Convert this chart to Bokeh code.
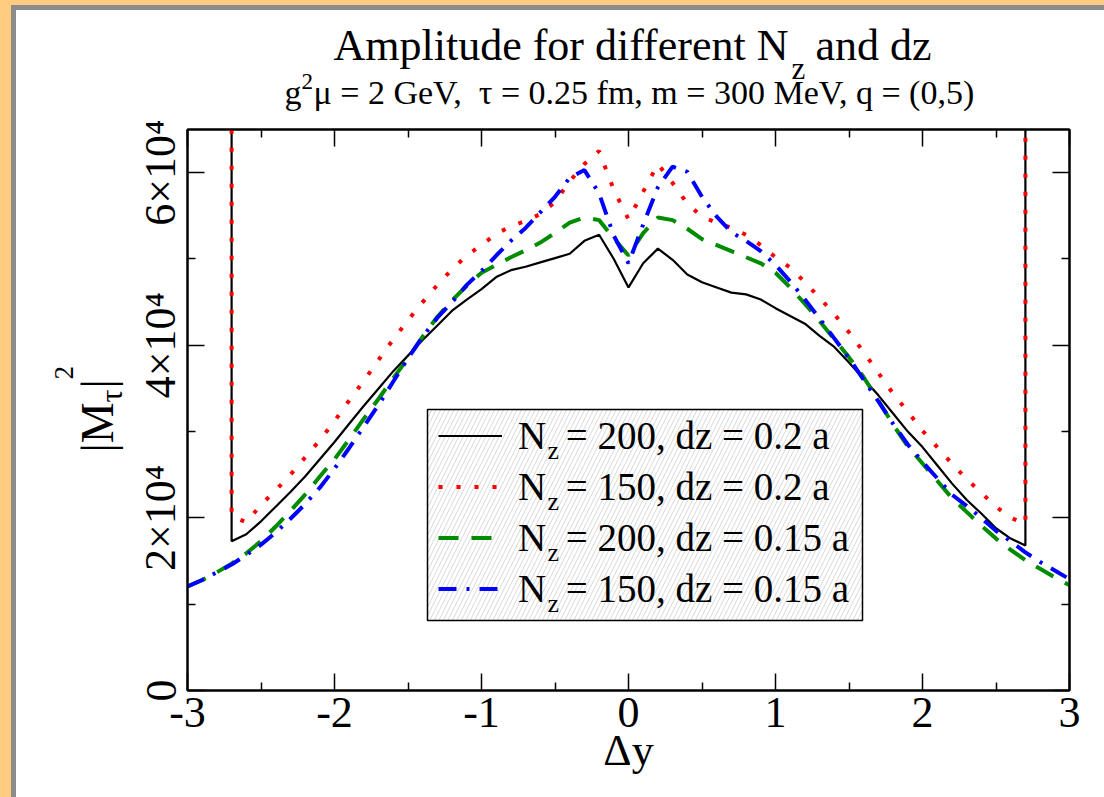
from bokeh.plotting import figure
from bokeh.models import Range1d, LinearAxis, FixedTicker, Legend, LegendItem, Column, Row
from bokeh.core.properties import value
from bokeh.embed import file_html
from bokeh.resources import INLINE

# ---------------- data (|M_tau|^2 in units of 10^4) ----------------
dy_full = [-3.0, -2.9, -2.8, -2.7, -2.6, -2.5, -2.4, -2.3, -2.2, -2.1, -2.0,
           -1.9, -1.8, -1.7, -1.6, -1.5, -1.4, -1.3, -1.2, -1.1, -1.0,
           -0.9, -0.8, -0.7, -0.6, -0.5, -0.4, -0.3, -0.2, -0.1, 0.0,
           0.1, 0.2, 0.3, 0.4, 0.5, 0.6, 0.7, 0.8, 0.9, 1.0,
           1.1, 1.2, 1.3, 1.4, 1.5, 1.6, 1.7, 1.8, 1.9, 2.0,
           2.1, 2.2, 2.3, 2.4, 2.5, 2.6, 2.7, 2.8, 2.9, 3.0]
dy_inner = [-2.7, -2.6, -2.5, -2.4, -2.3, -2.2, -2.1, -2.0,
            -1.9, -1.8, -1.7, -1.6, -1.5, -1.4, -1.3, -1.2, -1.1, -1.0,
            -0.9, -0.8, -0.7, -0.6, -0.5, -0.4, -0.3, -0.2, -0.1, 0.0,
            0.1, 0.2, 0.3, 0.4, 0.5, 0.6, 0.7, 0.8, 0.9, 1.0,
            1.1, 1.2, 1.3, 1.4, 1.5, 1.6, 1.7, 1.8, 1.9, 2.0,
            2.1, 2.2, 2.3, 2.4, 2.5, 2.6, 2.7]

# N_z = 200, dz = 0.2 a (black, solid)
nz200_dz02 = [1.73, 1.81, 1.96, 2.13, 2.30, 2.48, 2.68, 2.88,
              3.09, 3.30, 3.50, 3.70, 3.88, 4.06, 4.23, 4.40, 4.53, 4.65,
              4.79, 4.87, 4.91, 4.96, 5.01, 5.06, 5.21, 5.28, 5.00, 4.67,
              4.95, 5.12, 4.99, 4.82, 4.73, 4.67, 4.61, 4.59, 4.53, 4.43,
              4.34, 4.25, 4.11, 3.98, 3.80, 3.61, 3.42, 3.21, 3.00, 2.82,
              2.61, 2.40, 2.21, 2.05, 1.88, 1.76, 1.68]
# N_z = 150, dz = 0.2 a (red, dotted)
nz150_dz02 = [2.02, 1.95, 2.15, 2.32, 2.50, 2.70, 2.90, 3.12,
              3.36, 3.59, 3.83, 4.07, 4.29, 4.50, 4.70, 4.88, 5.04, 5.16,
              5.29, 5.38, 5.44, 5.52, 5.66, 5.90, 6.10, 6.25, 5.80, 5.46,
              5.78, 6.10, 5.88, 5.64, 5.49, 5.42, 5.36, 5.28, 5.16, 5.02,
              4.90, 4.73, 4.55, 4.36, 4.15, 3.92, 3.68, 3.44, 3.23, 3.01,
              2.82, 2.63, 2.45, 2.29, 2.13, 2.00, 1.93]
# off-scale values at the edge points |dy| = 2.7
edge_value = 9.0

# N_z = 200, dz = 0.15 a (green, dashed)
nz200_dz015 = [1.205, 1.28, 1.37, 1.47, 1.59, 1.73, 1.90, 2.08, 2.27, 2.48, 2.68,
               2.91, 3.15, 3.38, 3.62, 3.85, 4.10, 4.33, 4.52, 4.69, 4.84,
               4.93, 5.02, 5.10, 5.19, 5.30, 5.42, 5.48, 5.45, 5.24, 5.04,
               5.30, 5.48, 5.45, 5.35, 5.23, 5.16, 5.09, 5.02, 4.95, 4.84,
               4.67, 4.48, 4.28, 4.07, 3.86, 3.63, 3.36, 3.08, 2.83, 2.63,
               2.43, 2.23, 2.07, 1.91, 1.76, 1.63, 1.51, 1.41, 1.31, 1.22]
# N_z = 150, dz = 0.15 a (blue, dash-dot)
nz150_dz015 = [1.205, 1.28, 1.37, 1.46, 1.57, 1.69, 1.83, 1.99, 2.16, 2.35, 2.57,
               2.81, 3.06, 3.31, 3.58, 3.85, 4.10, 4.32, 4.50, 4.70, 4.86,
               5.04, 5.21, 5.36, 5.54, 5.72, 5.94, 6.03, 5.76, 5.27, 4.95,
               5.40, 5.83, 6.07, 6.01, 5.72, 5.49, 5.31, 5.21, 5.09, 4.93,
               4.74, 4.53, 4.31, 4.08, 3.85, 3.60, 3.35, 3.09, 2.85, 2.65,
               2.46, 2.27, 2.14, 2.00, 1.85, 1.73, 1.60, 1.49, 1.39, 1.29]

series_labels = ["N\u2002= 200, dz = 0.2 a", "N\u2002= 150, dz = 0.2 a",
                 "N\u2002= 200, dz = 0.15 a", "N\u2002= 150, dz = 0.15 a"]
x_ticks = [-3, -2, -1, 0, 1, 2, 3]
x_tick_labels = ["-3", "-2", "-1", "0", "1", "2", "3"]
y_ticks = [0, 20000, 40000, 60000]
y_tick_labels = ["0", "2\u00d710\u2074", "4\u00d710\u2074", "6\u00d710\u2074"]

SCALE = 1.0e4
FONT = "Liberation Serif"
TICK_FONT = "44px"
MID = 0.38   # baseline lies this many em below a "middle" anchor

# ---------------- page geometry (page pixels) ----------------
PW, PH = 1104, 797
TITLE_B = 119      # bottom of the title band
LEFT_R = 128       # right edge of the y-title band
FL, FR, FT, FB = 187, 1069, 129, 690   # plot frame
XR = (-3.0, 3.0)
YR = (0.0, 65000.0)


def band(x0, x1, y0, y1, fy0, fy1):
    f = figure(width=x1 - x0, height=y1 - y0, output_backend="svg",
               toolbar_location=None, title=None,
               min_border_left=0, min_border_right=0,
               min_border_top=fy0 - y0, min_border_bottom=y1 - fy1,
               x_range=Range1d(x0, x1), y_range=Range1d(-fy1, -fy0),
               x_axis_type=None, y_axis_type=None)
    f.outline_line_color = None
    f.border_fill_alpha = 0.0
    f.background_fill_alpha = 0.0
    return f


def txt(f, s, px, py, size, angle=0.0):
    """place text so that its baseline starts at page point (px, py)"""
    if angle:
        ax, ay = px - MID * size, py
    else:
        ax, ay = px, py - MID * size
    f.text(x=[ax], y=[-ay], text=[s], text_font=value(FONT),
           text_font_size=value(f"{size}px"), text_align=value("left"),
           text_baseline=value("middle"), angle=angle, text_color="black")


# ---------------- title band ----------------
tf = band(0, PW, 0, TITLE_B, 0, TITLE_B)
txt(tf, "Amplitude for different N", 333, 62, 44)
txt(tf, "z", 791, 80, 31)
txt(tf, "and dz", 815, 62, 44)
txt(tf, "g", 284, 105, 34)
txt(tf, "2", 301, 90, 23)
txt(tf, "\u03bc = 2 GeV,\u00a0 \u03c4 = 0.25 fm, m = 300 MeV, q = (0,5)", 313, 105, 34)

# ---------------- y-title band |M_tau|^2 ----------------
lf = band(0, LEFT_R, TITLE_B, PH, FT, FB)
ANG = 1.5707963267948966
txt(lf, "|M", 114, 452, 46, angle=ANG)
txt(lf, "\u03c4", 123, 402, 32, angle=ANG)
txt(lf, "|", 114, 388, 46, angle=ANG)
txt(lf, "2", 74, 379, 27, angle=ANG)

# ---------------- main plot ----------------
p = figure(width=PW - LEFT_R, height=PH - TITLE_B, output_backend="svg",
           toolbar_location=None, title=None,
           x_range=Range1d(*XR), y_range=Range1d(*YR),
           min_border_left=FL - LEFT_R, min_border_top=FT - TITLE_B,
           min_border_right=PW - FR, min_border_bottom=PH - FB,
           x_axis_type=None, y_axis_type=None)
p.border_fill_alpha = 0.0
p.background_fill_color = "white"
p.outline_line_color = "black"
p.outline_line_width = 2


def dx(px):
    return XR[0] + (px - FL) / (FR - FL) * (XR[1] - XR[0])


def dyy(py):
    return YR[0] + (FB - py) / (FB - FT) * (YR[1] - YR[0])


def style_axis(ax, labels):
    ax.axis_line_width = 2
    ax.axis_line_color = "black"
    ax.major_tick_in = 17
    ax.major_tick_out = 0
    ax.minor_tick_in = 8
    ax.minor_tick_out = 0
    ax.major_tick_line_width = 1.5
    ax.minor_tick_line_width = 1.5
    ax.major_tick_line_color = "black"
    ax.minor_tick_line_color = "black"
    ax.major_label_text_font = FONT
    ax.major_label_text_color = "black"
    if not labels:
        ax.major_label_text_font_size = "0px"
        ax.major_label_text_color = None
        ax.major_label_standoff = 0


xt = FixedTicker(ticks=x_ticks, minor_ticks=[-2.5, -1.5, -0.5, 0.5, 1.5, 2.5])
yt = FixedTicker(ticks=y_ticks, minor_ticks=[10000, 30000, 50000])

xb = LinearAxis(ticker=xt)
style_axis(xb, True)
xb.major_label_overrides = {t: l for t, l in zip(x_ticks, x_tick_labels)}
xb.major_label_text_font_size = TICK_FONT
xb.major_label_standoff = 7
xb.axis_label = "\u0394y"
xb.axis_label_text_font = FONT
xb.axis_label_text_font_size = "44px"
xb.axis_label_text_font_style = "normal"
xb.axis_label_text_color = "black"
xb.axis_label_standoff = -4
p.add_layout(xb, "below")

xa = LinearAxis(ticker=xt)
style_axis(xa, False)
p.add_layout(xa, "above")

yl = LinearAxis(ticker=yt)
style_axis(yl, True)
yl.major_label_overrides = {t: l for t, l in zip(y_ticks, y_tick_labels)}
yl.major_label_text_font_size = TICK_FONT
yl.major_label_orientation = "vertical"
yl.major_label_standoff = 2
p.add_layout(yl, "left")

yr = LinearAxis(ticker=yt)
style_axis(yr, False)
p.add_layout(yr, "right")

# legend frame (hatched)
p.quad(left=[dx(427)], right=[dx(862)], top=[dyy(409)], bottom=[dyy(620)],
       fill_color="white", hatch_pattern="/", hatch_color="#d8d8d8", hatch_scale=9,
       hatch_weight=1, line_color="black", line_width=1.5)

# ---------------- curves ----------------
bx = [dy_inner[0]] + dy_inner + [dy_inner[-1]]
r_black = p.line(bx, [v * SCALE for v in [edge_value] + nz200_dz02 + [edge_value]],
                 line_color="black", line_width=2.2)
r_red = p.line(bx, [v * SCALE for v in [edge_value] + nz150_dz02 + [edge_value]],
               line_color="#ff0000", line_width=4, line_dash="4 14", line_cap="butt")
r_green = p.line(dy_full, [v * SCALE for v in nz200_dz015],
                 line_color="#008c00", line_width=4, line_dash="20 13")
r_blue = p.line(dy_full, [v * SCALE for v in nz150_dz015],
                line_color="#0000ff", line_width=4, line_dash="18 10 3 10")

# subscript z of the legend labels
Z_SIZE = 26
p.text(x=[dx(547)] * 4, y=[dyy(460 + 51 * i - MID * Z_SIZE) for i in range(4)], text=["z"] * 4,
       text_font=value(FONT), text_font_size=value(f"{Z_SIZE}px"), text_align=value("left"),
       text_baseline=value("middle"), text_color="black")

legend = Legend(items=[LegendItem(label=series_labels[0], renderers=[r_black]),
                       LegendItem(label=series_labels[1], renderers=[r_red]),
                       LegendItem(label=series_labels[2], renderers=[r_green]),
                       LegendItem(label=series_labels[3], renderers=[r_blue])],
                location=(438 - FL, FB - (412.5 + 204) + 3),
                glyph_width=64, glyph_height=51, label_height=20, label_standoff=16,
                spacing=0, padding=0, margin=0,
                label_text_font=FONT, label_text_font_size="39px",
                label_text_color="black",
                background_fill_alpha=0.0, border_line_alpha=0.0)
p.add_layout(legend)

page = Column(children=[tf, Row(children=[lf, p])])
page.styles = {
    "background-color": "white",
    "background-image": ("linear-gradient(#ffcc80, #ffcc80), linear-gradient(#ffcc80, #ffcc80), "
                         "linear-gradient(#8c8c8c, #8c8c8c), linear-gradient(#8c8c8c, #8c8c8c)"),
    "background-size": "100% 5px, 11px 100%, 100% 10px, 16px 100%",
    "background-repeat": "no-repeat",
    "background-position": "0 0, 0 0, 0 0, 0 0",
}

open("out.html", "w").write(file_html(page, INLINE))
